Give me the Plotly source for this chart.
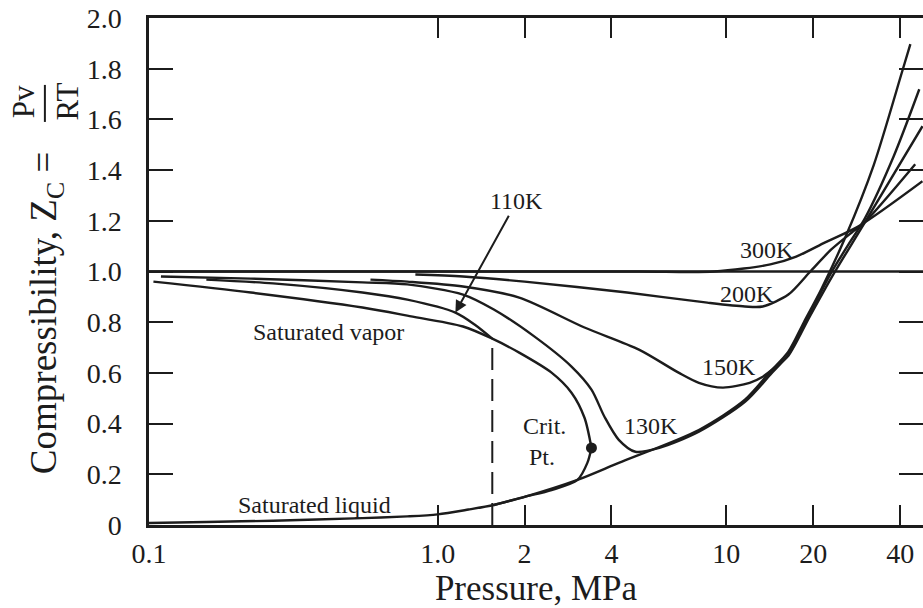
import numpy as np
import plotly.graph_objects as go

# ---------------- data: pressure (MPa) and compressibility Z ----------------
sat_liq_p = [0.1, 0.158, 0.269, 0.549, 0.785, 1.0, 1.278, 1.565, 2.0, 2.48, 3.05, 3.30, 3.41]
sat_liq_z = [0.008, 0.012, 0.017, 0.027, 0.034, 0.042, 0.061, 0.079, 0.111, 0.138, 0.178, 0.245, 0.304]

sat_vap_p = [0.1036, 0.2254, 0.549, 0.785, 1.224, 1.546, 1.916, 2.48, 2.908, 3.226, 3.41]
sat_vap_z = [0.960, 0.917, 0.858, 0.826, 0.783, 0.735, 0.680, 0.601, 0.522, 0.423, 0.304]

t110_vap_p = [0.158, 0.269, 0.549, 0.785, 1.152, 1.342, 1.546]
t110_vap_z = [0.968, 0.953, 0.917, 0.889, 0.838, 0.791, 0.735]

t110_sat_p = [1.546, 1.546]
t110_sat_z = [0.0, 0.72]

t110_liq_p = [1.565, 2.0, 3.05, 4.24, 8.03, 11.6, 14.2, 16.4, 18.6, 21.3, 25.9, 32.4, 40.6, 43.4]
t110_liq_z = [0.079, 0.111, 0.178, 0.245, 0.375, 0.494, 0.605, 0.684, 0.802, 0.929, 1.138, 1.42, 1.787, 1.897]

t130_p = [0.110, 0.2254, 0.549, 0.785, 1.224, 1.565, 2.166, 2.908, 3.41, 3.783, 4.24, 4.84,
          5.86, 8.03, 11.6, 14.2, 16.4, 19.4, 23.1, 26.5, 30.2, 38.0, 46.6]
t130_z = [0.980, 0.972, 0.957, 0.949, 0.909, 0.850, 0.743, 0.625, 0.534, 0.427, 0.336, 0.289,
          0.304, 0.368, 0.486, 0.593, 0.672, 0.830, 0.996, 1.107, 1.21, 1.455, 1.719]

t150_p = [0.585, 0.785, 1.224, 1.916, 3.226, 4.98, 6.83, 8.03, 9.72, 12.04, 13.37, 14.86,
          16.4, 19.4, 23.1, 29.9, 47.8]
t150_z = [0.968, 0.960, 0.941, 0.897, 0.779, 0.692, 0.601, 0.561, 0.542, 0.561, 0.585, 0.625,
          0.668, 0.82, 0.975, 1.186, 1.573]

t200_p = [0.837, 1.224, 2.0, 4.53, 8.59, 11.6, 13.37, 16.4, 19.4, 23.1, 27.2, 29.9, 45.1]
t200_z = [0.988, 0.980, 0.960, 0.917, 0.877, 0.862, 0.862, 0.909, 0.996, 1.087, 1.154, 1.19, 1.423]

t300_p = [0.1, 1.0, 5.0, 9.09, 14.2, 17.46, 22.0, 28.7, 47.8]
t300_z = [1.0, 1.0, 1.0, 1.0, 1.028, 1.059, 1.115, 1.178, 1.356]

ideal_p = [0.1, 48.0]
ideal_z = [1.0, 1.0]

crit_p = [3.41]
crit_z = [0.304]

x_tick_vals = [0.1, 1.0, 2, 4, 10, 20, 40]
x_tick_text = ["0.1", "1.0", "2", "4", "10", "20", "40"]
y_tick_vals = [0, 0.2, 0.4, 0.6, 0.8, 1.0, 1.2, 1.4, 1.6, 1.8, 2.0]
y_tick_text = ["0", "0.2", "0.4", "0.6", "0.8", "1.0", "1.2", "1.4", "1.6", "1.8", "2.0"]

# labels: (text, pressure, Z)
curve_labels = [
    ("300K", 13.8, 1.083),
    ("200K", 11.8, 0.913),
    ("150K", 10.25, 0.625),
    ("130K", 5.48, 0.391),
    ("Crit.", 2.35, 0.391),
    ("Pt.", 2.29, 0.269),
    ("Saturated vapor", 0.42, 0.763),
    ("Saturated liquid", 0.375, 0.079),
]
arrow_label = ("110K", 1.88, 1.277)
arrow_head = (1.152, 0.838)

# ---------------- figure ----------------
INK = "#1c1c1c"
FONT = "Liberation Serif, Times New Roman, serif"

fig = go.Figure()


def add_line(p, z, name, dash=None, width=2.4, shape="spline"):
    fig.add_trace(go.Scatter(
        x=p, y=z, mode="lines", name=name,
        line=dict(color=INK, width=width, dash=dash, shape=shape, smoothing=0.8),
        hoverinfo="name",
    ))


add_line(ideal_p, ideal_z, "Z = 1", shape="linear")
add_line(sat_liq_p, sat_liq_z, "Saturated liquid")
add_line(sat_vap_p, sat_vap_z, "Saturated vapor")
add_line(t110_vap_p, t110_vap_z, "110K (vapor)")
add_line(t110_sat_p, t110_sat_z, "110K (saturation)", dash="22px,9px", width=2, shape="linear")
add_line(t110_liq_p, t110_liq_z, "110K (liquid)")
add_line(t130_p, t130_z, "130K")
add_line(t150_p, t150_z, "150K")
add_line(t200_p, t200_z, "200K")
add_line(t300_p, t300_z, "300K")

fig.add_trace(go.Scatter(
    x=crit_p, y=crit_z, mode="markers", name="Critical point",
    marker=dict(color=INK, size=11),
))

annotations = []
for text, p, z in curve_labels:
    annotations.append(dict(
        x=np.log10(p), y=z, xref="x", yref="y", text=text, showarrow=False,
        font=dict(family=FONT, size=24, color=INK), xanchor="center", yanchor="middle",
    ))

annotations.append(dict(
    x=np.log10(arrow_head[0]), y=arrow_head[1], xref="x", yref="y",
    ax=np.log10(arrow_label[1]), ay=arrow_label[2], axref="x", ayref="y",
    text=arrow_label[0], showarrow=True, arrowhead=2, arrowsize=1.2, arrowwidth=2,
    arrowcolor=INK, standoff=0, startstandoff=0,
    font=dict(family=FONT, size=24, color=INK),
))

# y-axis title built from pieces (with stacked fraction)
annotations.append(dict(
    x=-0.133, y=0.418, xref="paper", yref="paper", textangle=-90,
    text="Compressibility, Z<sub>C</sub> =", showarrow=False,
    font=dict(family=FONT, size=37, color=INK), xanchor="center", yanchor="middle",
))
annotations.append(dict(
    x=-0.162, y=0.835, xref="paper", yref="paper", textangle=-90,
    text="Pv", showarrow=False,
    font=dict(family=FONT, size=31, color=INK), xanchor="center", yanchor="middle",
))
annotations.append(dict(
    x=-0.105, y=0.835, xref="paper", yref="paper", textangle=-90,
    text="RT", showarrow=False,
    font=dict(family=FONT, size=31, color=INK), xanchor="center", yanchor="middle",
))

fig.update_layout(
    width=923, height=608,
    margin=dict(l=149, r=0, t=18, b=83, autoexpand=False),
    paper_bgcolor="white", plot_bgcolor="white",
    showlegend=False,
    font=dict(family=FONT, color=INK),
    annotations=annotations,
    shapes=[dict(type="line", xref="paper", yref="paper",
                 x0=-0.1345, x1=-0.1345, y0=0.795, y1=0.868,
                 line=dict(color=INK, width=2))],
)

fig.update_xaxes(
    type="log", range=[-1, np.log10(48)],
    tickmode="array", tickvals=x_tick_vals, ticktext=x_tick_text,
    ticks="inside", ticklen=20, tickwidth=2, tickcolor=INK,
    showline=True, linewidth=2.5, linecolor=INK, mirror="ticks",
    showgrid=False, zeroline=False,
    tickfont=dict(family=FONT, size=28, color=INK), ticklabelstandoff=2,
    title=dict(text="Pressure, MPa", font=dict(family=FONT, size=35, color=INK), standoff=4),
)
fig.update_yaxes(
    range=[0, 2.0],
    tickmode="array", tickvals=y_tick_vals, ticktext=y_tick_text,
    ticks="inside", ticklen=24, tickwidth=2, tickcolor=INK,
    showline=True, linewidth=2.5, linecolor=INK, mirror="ticks",
    showgrid=False, zeroline=False,
    tickfont=dict(family=FONT, size=28, color=INK), ticklabelstandoff=19,
)

fig.write_html(
    "out.html",
    config={"displayModeBar": False},
    post_script="document.body.style.margin='0px';",
)
